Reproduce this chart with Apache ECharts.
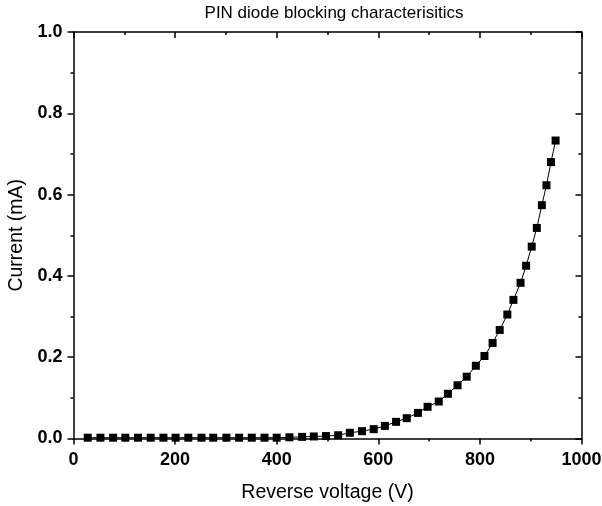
<!DOCTYPE html>
<html>
<head>
<meta charset="utf-8">
<title>PIN diode blocking characterisitics</title>
<script src="https://cdn.jsdelivr.net/npm/echarts@6/dist/echarts.min.js"></script>
<style>
  html, body { margin: 0; padding: 0; background: #fff; }
  #chart { width: 602px; height: 506px; }
</style>
</head>
<body>
<div id="chart"></div>
<script>
// reverse voltage (V)
var voltage = [28, 53, 78, 102, 127, 152, 177, 201, 226, 252, 275, 301, 326, 351, 376, 400, 425, 450, 473,
  497, 521, 544, 568, 591, 613, 635, 656, 678, 697, 719, 737, 756, 774, 792, 809, 825, 839, 854, 866, 880,
  891, 902, 912, 922, 931, 940, 949];
// current (mA)
var current = [0.002, 0.002, 0.002, 0.002, 0.002, 0.002, 0.002, 0.002, 0.002, 0.002, 0.002, 0.002, 0.002, 0.002, 0.002, 0.002, 0.003, 0.004, 0.005,
  0.006, 0.008, 0.014, 0.018, 0.023, 0.031, 0.041, 0.050, 0.063, 0.078, 0.091, 0.110, 0.131, 0.152, 0.179, 0.203, 0.235, 0.267, 0.305, 0.341, 0.383,
  0.425, 0.472, 0.518, 0.574, 0.623, 0.680, 0.733];

var points = [];
for (var i = 0; i < voltage.length; i++) {
  points.push([voltage[i], current[i]]);
}

var chart = echarts.init(document.getElementById('chart'));
var fontFam = '"Liberation Sans", Arial, sans-serif';
var lineStyle = { color: '#000', width: 1.5 };

var option = {
  animation: false,
  title: {
    text: 'PIN diode blocking characterisitics',
    left: 329,
    textAlign: 'center',
    top: 0,
    textStyle: { fontFamily: fontFam, fontSize: 17, fontWeight: 'normal', color: '#000' }
  },
  grid: { left: 73.5, right: 20.5, top: 32, bottom: 67.5, outerBoundsMode: 'none', containLabel: false },
  xAxis: [{
    type: 'value', min: 0, max: 1000, interval: 200,
    name: 'Reverse voltage (V)', nameLocation: 'middle', nameGap: 44,
    nameTextStyle: { fontFamily: fontFam, fontSize: 19.5, color: '#000' },
    axisLine: { onZero: false, lineStyle: lineStyle },
    axisTick: { length: 6, lineStyle: lineStyle },
    minorTick: { show: true, splitNumber: 2, length: 3, lineStyle: lineStyle },
    splitLine: { show: false },
    axisLabel: {
      margin: 13, fontFamily: fontFam, fontSize: 18, fontWeight: 'bold', color: '#000',
      formatter: function (v) { return String(v); }
    }
  }, {
    type: 'value', min: 0, max: 1000, interval: 200, position: 'top',
    axisLine: { onZero: false, lineStyle: lineStyle },
    axisTick: { inside: true, length: 6, lineStyle: lineStyle },
    minorTick: { show: true, splitNumber: 2, length: 3, lineStyle: lineStyle },
    splitLine: { show: false },
    axisLabel: { show: false }
  }],
  yAxis: [{
    type: 'value', min: 0, max: 1.0, interval: 0.2,
    name: 'Current (mA)', nameLocation: 'middle', nameGap: 47,
    nameTextStyle: { fontFamily: fontFam, fontSize: 19.5, color: '#000' },
    axisLine: { onZero: false, lineStyle: lineStyle },
    axisTick: { length: 6, lineStyle: lineStyle },
    minorTick: { show: true, splitNumber: 2, length: 3, lineStyle: lineStyle },
    splitLine: { show: false },
    axisLabel: {
      margin: 11, fontFamily: fontFam, fontSize: 18, fontWeight: 'bold', color: '#000',
      formatter: function (v) { return v.toFixed(1); }
    }
  }, {
    type: 'value', min: 0, max: 1.0, interval: 0.2, position: 'right',
    axisLine: { onZero: false, lineStyle: lineStyle },
    axisTick: { inside: true, length: 6, lineStyle: lineStyle },
    minorTick: { show: true, splitNumber: 2, length: 3, lineStyle: lineStyle },
    splitLine: { show: false },
    axisLabel: { show: false }
  }],
  series: [{
    type: 'line',
    data: points,
    xAxisIndex: 0,
    yAxisIndex: 0,
    symbol: 'rect',
    symbolSize: 8,
    showAllSymbol: true,
    itemStyle: { color: '#000' },
    lineStyle: { color: '#000', width: 1 }
  }]
};
chart.setOption(option);
</script>
</body>
</html>
